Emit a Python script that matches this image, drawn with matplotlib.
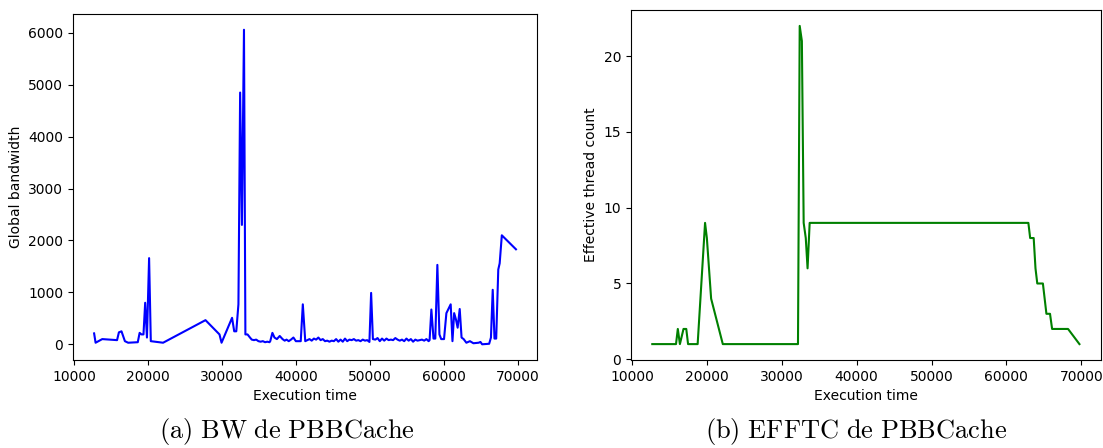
import matplotlib
matplotlib.use("Agg")
import matplotlib.pyplot as plt

# BW de PBBCache (global bandwidth)
bw_time = [12700, 12900, 13800, 15800, 16050, 16400, 16860, 17300, 18600, 18850,
           19100, 19370, 19600, 19840, 20130, 20360, 22020, 27750, 29640, 29920,
           31340, 31630, 31910, 32200, 32430, 32670, 32950, 33140, 33430, 33760,
           34000, 34300, 34600, 34900, 35200, 35500, 35800, 36100, 36400, 36500,
           36790, 37070, 37400, 37780, 38160, 38450, 38700, 39000, 39300, 39630,
           39960, 40620, 40900, 41230,
           41500, 41800, 42100, 42400, 42700, 43000, 43300, 43600, 43900, 44200,
           44500, 44800, 45100, 45400, 45700, 46000, 46300, 46600, 46900, 47200,
           47500, 47800, 48100, 48400, 48700, 49000, 49300, 49600, 49900, 50130,
           50370, 50700, 51000, 51300, 51600, 51900, 52200, 52500, 52800, 53100,
           53400, 53700, 54000, 54300, 54600, 54900, 55200, 55500, 55800, 56100,
           56400, 56700, 57000, 57300, 57600, 57900, 58030, 58270, 58560, 58800,
           59080, 59360, 59600, 59980, 60300, 60640, 60880, 61120, 61350, 61590,
           61820, 62100, 62350, 62630, 63000, 63480, 63950, 64660, 64900, 65130,
           66080, 66320, 66560, 66800, 67030, 67310, 67500, 67790, 69700]
bw_value = [210, 30, 100, 80, 230, 250, 60, 30, 40, 220,
            190, 190, 800, 130, 1660, 60, 30, 465, 190, 30,
            510, 250, 250, 770, 4850, 2300, 6060, 190, 190, 130,
            90, 80, 90, 60, 50, 60, 40, 50, 40, 60,
            220, 130, 100, 160, 100, 70, 90, 60, 90, 130,
            60, 60, 770, 60,
            80, 100, 70, 110, 90, 130, 80, 100, 60, 70,
            50, 70, 60, 100, 50, 90, 50, 110, 60, 90,
            80, 100, 70, 80, 60, 90, 70, 80, 45, 990,
            100, 90, 120, 60, 110, 70, 110, 80, 90, 80,
            120, 90, 70, 90, 60, 110, 70, 100, 50, 90,
            70, 80, 90, 70, 100, 60, 80, 670, 110, 110,
            1530, 190, 100, 100, 600, 700, 770, 60, 600, 480,
            320, 680, 130, 100, 30, 60, 20, 30, 45, 0,
            10, 130, 1050, 110, 110, 1440, 1560, 2100, 1830]

# EFFTC de PBBCache (effective thread count)
eff_time = [12700, 15870, 16110, 16390, 16870, 17240, 17480, 18760, 19750, 19990,
            20560, 22120, 32160, 32390, 32680, 32920, 33200, 33440, 33720, 62930,
            63170, 63640, 63880, 64120, 64870, 65340, 65820, 66100, 68230, 69750]
eff_value = [1, 1, 2, 1, 2, 2, 1, 1, 9, 8,
             4, 1, 1, 22, 21, 9, 8, 6, 9, 9,
             8, 8, 6, 5, 5, 3, 3, 2, 2, 1]

plt.rcParams["mathtext.fontset"] = "cm"

fig = plt.figure(figsize=(11.03, 4.48), dpi=100)

ax1 = fig.add_axes([0.0662, 0.1964, 0.4207, 0.7723])
ax1.plot(bw_time, bw_value, color="blue", linewidth=1.5)
ax1.set_xlabel("Execution time")
ax1.set_ylabel("Global bandwidth")
ax1.set_xticks([10000, 20000, 30000, 40000, 50000, 60000, 70000])

ax2 = fig.add_axes([0.572, 0.1964, 0.426, 0.7813])
ax2.plot(eff_time, eff_value, color="green", linewidth=1.5)
ax2.set_xlabel("Execution time")
ax2.set_ylabel("Effective thread count")
ax2.set_xticks([10000, 20000, 30000, 40000, 50000, 60000, 70000])
ax2.set_yticks([0, 5, 10, 15, 20])

# subcaptions under each panel
fig.text(0.26, 0.037, r"$\mathrm{(a)\ BW\ de\ PBBCache}$", ha="center", va="center", fontsize=19)
fig.text(0.776, 0.037, r"$\mathrm{(b)\ EFFTC\ de\ PBBCache}$", ha="center", va="center", fontsize=19)

fig.savefig("out.png", dpi=100)
